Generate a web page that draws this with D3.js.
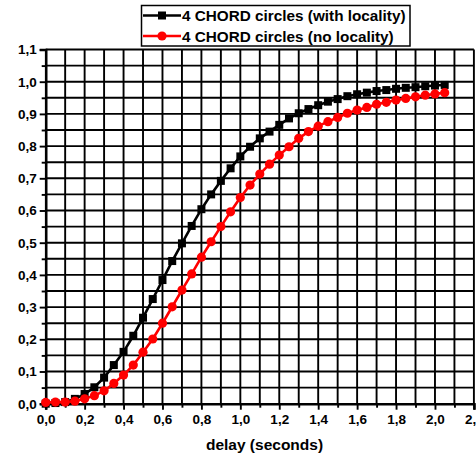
<!DOCTYPE html>
<html><head><meta charset="utf-8">
<script src="https://cdn.jsdelivr.net/npm/d3@7"></script>
<style>body{margin:0;background:#fff;overflow:hidden}svg{display:block}text{font-family:"Liberation Sans",Arial,sans-serif;font-weight:bold}</style>
</head><body>
<script>
const delays = [0,0.05,0.1,0.15,0.2,0.25,0.3,0.35,0.4,0.45,0.5,0.55,0.6,0.65,0.7,0.75,0.8,0.85,0.9,0.95,1.0,1.05,1.1,1.15,1.2,1.25,1.3,1.35,1.4,1.45,1.5,1.55,1.6,1.65,1.7,1.75,1.8,1.85,1.9,1.95,2.0,2.05];
const withLocality = [0.0,0.002,0.005,0.015,0.03,0.051,0.081,0.12,0.161,0.211,0.267,0.325,0.384,0.443,0.498,0.552,0.604,0.65,0.692,0.731,0.768,0.798,0.824,0.845,0.866,0.886,0.902,0.915,0.927,0.938,0.946,0.955,0.961,0.966,0.971,0.974,0.978,0.981,0.983,0.986,0.988,0.99];
const noLocality = [0.004,0.005,0.005,0.008,0.015,0.025,0.04,0.063,0.089,0.12,0.16,0.201,0.25,0.301,0.353,0.403,0.455,0.503,0.55,0.596,0.64,0.679,0.713,0.744,0.772,0.798,0.824,0.845,0.862,0.876,0.889,0.902,0.912,0.92,0.93,0.936,0.943,0.948,0.953,0.958,0.962,0.966];
const seriesNames = ["4 CHORD circles (with locality)","4 CHORD circles (no locality)"];
const xTickLabels = [0,0.2,0.4,0.6,0.8,1.0,1.2,1.4,1.6,1.8,2.0,2.2];
const yTickLabels = [0,0.1,0.2,0.3,0.4,0.5,0.6,0.7,0.8,0.9,1.0,1.1];

const W=476,H=458;
const svg=d3.select("body").append("svg").attr("width",W).attr("height",H);
const x=d3.scaleLinear().domain([0,2.2]).range([45.7,473.9]);
const y=d3.scaleLinear().domain([0,1.1]).range([403.7,49.5]);
const fmt=v=>d3.format(".1f")(v).replace(".",",");

// grid
const g=svg.append("g");
g.selectAll("line.v").data(d3.range(1,23).map(i=>i/10)).join("line")
 .attr("x1",d=>x(d)).attr("x2",d=>x(d)).attr("y1",y(0)).attr("y2",y(1.1))
 .attr("stroke","#000").attr("stroke-width",1.9);
g.selectAll("line.h").data(d3.range(1,23).map(i=>i*0.05)).join("line")
 .attr("y1",d=>y(d)).attr("y2",d=>y(d)).attr("x1",x(0)).attr("x2",x(2.2))
 .attr("stroke","#000").attr("stroke-width",1.9);

// axes
const xAxis=d3.axisBottom(x).tickValues(xTickLabels).tickFormat(fmt).tickSize(6).tickPadding(5);
svg.append("g").attr("transform",`translate(0,${y(0)})`).call(xAxis);
const xMinor=d3.axisBottom(x).tickValues(d3.range(1,23,2).map(i=>i/10)).tickFormat("").tickSize(4);
svg.append("g").attr("transform",`translate(0,${y(0)})`).call(xMinor).select(".domain").remove();
const yAxis=d3.axisLeft(y).tickValues(yTickLabels).tickFormat(fmt).tickSize(6).tickPadding(3);
svg.append("g").attr("transform",`translate(${x(0)},0)`).call(yAxis);
const yMinor=d3.axisLeft(y).tickValues(d3.range(1,22,2).map(i=>i*0.05)).tickFormat("").tickSize(4);
svg.append("g").attr("transform",`translate(${x(0)},0)`).call(yMinor).select(".domain").remove();
svg.selectAll(".domain").attr("stroke","#000").attr("stroke-width",2.6);
svg.selectAll(".tick line").attr("stroke","#000").attr("stroke-width",1.9);
svg.selectAll(".tick text").attr("font-size",13.5).attr("fill","#000")
  .style("font-family",'"Liberation Sans",Arial,sans-serif').style("font-weight","bold");

svg.append("text").attr("x",264.5).attr("y",449.5).attr("text-anchor","middle").attr("font-size",15.5).text("delay (seconds)");

// series
const colors=["#000","#ff0000"];
const sets=[withLocality,noLocality];
const line=d3.line().x((d,i)=>x(delays[i])).y(d=>y(d));
sets.forEach((s,k)=>{
  svg.append("path").datum(s).attr("d",line).attr("fill","none").attr("stroke",colors[k]).attr("stroke-width",2.6);
});
svg.append("g").selectAll("rect").data(withLocality).join("rect")
 .attr("x",(d,i)=>x(delays[i])-4).attr("y",d=>y(d)-4).attr("width",8).attr("height",8).attr("fill","#000");
svg.append("g").selectAll("circle").data(noLocality).join("circle")
 .attr("cx",(d,i)=>x(delays[i])).attr("cy",d=>y(d)).attr("r",4.6).attr("fill","#ff0000");

// legend
const lg=svg.append("g");
lg.append("rect").attr("x",141.5).attr("y",5.5).attr("width",268.5).attr("height",40.5).attr("fill","#fff").attr("stroke","#000").attr("stroke-width",1.5);
[15.5,36].forEach((ly,k)=>{
  lg.append("line").attr("x1",143).attr("x2",181).attr("y1",ly).attr("y2",ly).attr("stroke",colors[k]).attr("stroke-width",2.6);
  if(k===0) lg.append("rect").attr("x",158).attr("y",ly-4).attr("width",8).attr("height",8).attr("fill","#000");
  else lg.append("circle").attr("cx",162).attr("cy",ly).attr("r",4.6).attr("fill","#ff0000");
  lg.append("text").attr("x",182).attr("y",ly+5.5).attr("font-size",15.3).text(seriesNames[k]);
});
</script>
</body></html>
